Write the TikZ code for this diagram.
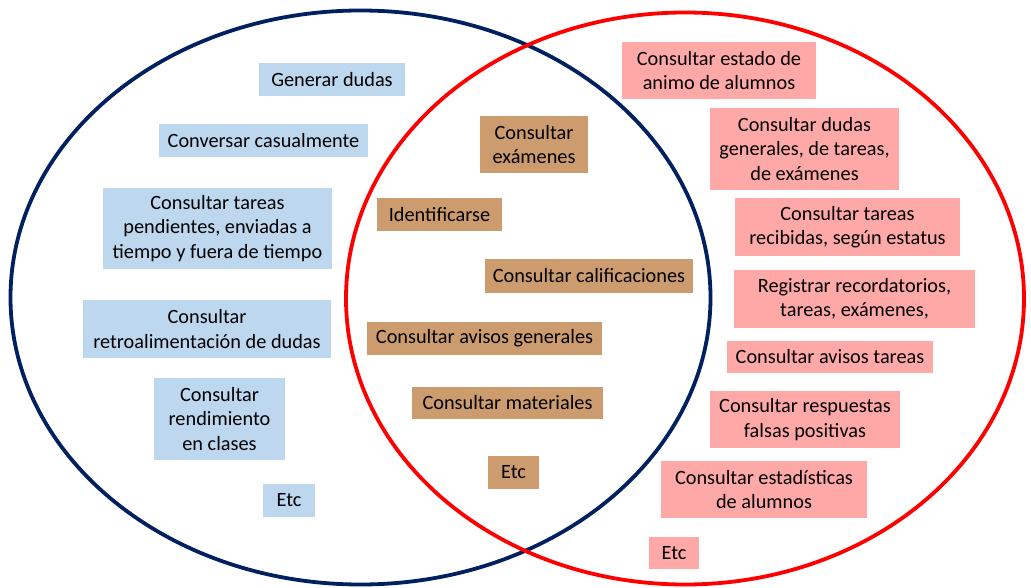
\documentclass[tikz,border=0pt]{standalone}
\usepackage{fontspec}
\setmainfont{Carlito}
\usetikzlibrary{shapes.geometric}
\definecolor{navy}{RGB}{0,32,96}
\definecolor{vred}{RGB}{255,0,0}
\definecolor{lblue}{RGB}{189,215,238}
\definecolor{tan}{RGB}{204,156,110}
\definecolor{lpink}{RGB}{255,168,168}
\tikzset{
  venn/.style={ellipse, draw, line width=3.8pt, inner sep=0pt, fill=none},
  box/.style={rectangle, inner sep=0pt, align=center, text=black,
     font=\fontsize{20.3}{24.5}\selectfont},
  bbox/.style={box, fill=lblue},
  tbox/.style={box, fill=tan},
  pbox/.style={box, fill=lpink},
}
\begin{document}
\begin{tikzpicture}[x=1pt,y=-1pt]
\useasboundingbox (0,0) rectangle (1031,588);
\node[venn, draw=navy, minimum width=700pt, minimum height=574pt] (L) at (360.5,297.5) {};
\node[venn, draw=vred, minimum width=678pt, minimum height=572pt] (R) at (685,298.5) {};
% left only
\node[bbox, minimum width=146pt, minimum height=33pt] (b1) at (332,79.5) {Generar dudas};
\node[bbox, minimum width=209pt, minimum height=33pt] (b2) at (263.5,140.5) {Conversar casualmente};
\node[bbox, minimum width=229pt, minimum height=81pt] (b3) at (217.5,228.5) {Consultar tareas\\pendientes, enviadas a\\tiempo y fuera de tiempo};
\node[bbox, minimum width=248pt, minimum height=58pt] (b4) at (207,329) {Consultar\\retroalimentación de dudas};
\node[bbox, minimum width=131pt, minimum height=82pt] (b5) at (219.5,419) {Consultar\\rendimiento\\en clases};
\node[bbox, minimum width=52pt, minimum height=33pt] (b6) at (289,500.5) {Etc};
% intersection
\node[tbox, minimum width=108pt, minimum height=57pt] (t1) at (534,144.5) {Consultar\\exámenes};
\node[tbox, minimum width=125pt, minimum height=33pt] (t2) at (439.5,214.5) {Identificarse};
\node[tbox, minimum width=208pt, minimum height=34pt] (t3) at (589,276) {Consultar calificaciones};
\node[tbox, minimum width=235pt, minimum height=33pt] (t4) at (484.5,338.5) {Consultar avisos generales};
\node[tbox, minimum width=191pt, minimum height=32pt] (t5) at (507.5,403) {Consultar materiales};
\node[tbox, minimum width=51pt, minimum height=33pt] (t6) at (513.5,472.5) {Etc};
% right only
\node[pbox, minimum width=194pt, minimum height=57pt] (p1) at (719,70.5) {Consultar estado de\\animo de alumnos};
\node[pbox, minimum width=189pt, minimum height=82pt] (p2) at (804.5,149) {Consultar dudas\\generales, de tareas,\\de exámenes};
\node[pbox, minimum width=225pt, minimum height=58pt] (p3) at (847.5,227) {Consultar tareas\\recibidas, según estatus};
\node[pbox, minimum width=241pt, minimum height=58pt] (p4) at (854.5,299) {Registrar recordatorios,\\tareas, exámenes,};
\node[pbox, minimum width=206pt, minimum height=32pt] (p5) at (830,357) {Consultar avisos tareas};
\node[pbox, minimum width=190pt, minimum height=57pt] (p6) at (805,419.5) {Consultar respuestas\\falsas positivas};
\node[pbox, minimum width=206pt, minimum height=57pt] (p7) at (764,489.5) {Consultar estadísticas\\de alumnos};
\node[pbox, minimum width=50pt, minimum height=32pt] (p8) at (674,553) {Etc};
\end{tikzpicture}
\end{document}
